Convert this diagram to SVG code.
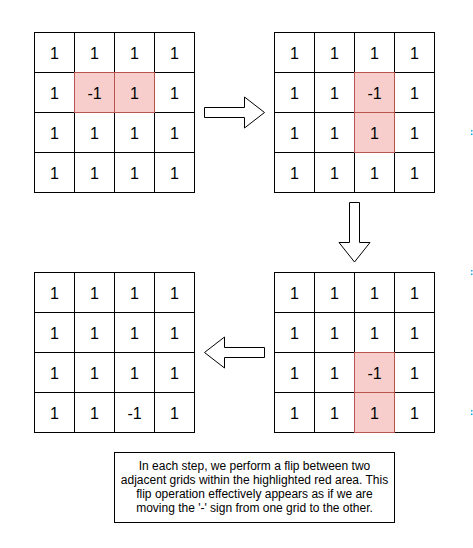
<svg xmlns="http://www.w3.org/2000/svg" width="473" height="548" viewBox="0 0 473 548">
<style>
.c{fill:#ffffff;stroke:#000000;stroke-width:1}
.r{fill:#f8cecc;stroke:#b85450;stroke-width:1}
.t{font-family:"Liberation Sans",Arial,Helvetica,sans-serif;font-size:16px;fill:#000000;text-anchor:middle}
.n{font-family:"Liberation Sans",Arial,Helvetica,sans-serif;font-size:12px;fill:#000000;text-anchor:middle}
.a{fill:#ffffff;stroke:#000000;stroke-width:1;stroke-linejoin:miter}
.d{fill:#1ba1e2}
</style>
<rect width="473" height="548" fill="#ffffff"/>
<g id="grid-step1">
<rect class="c" x="34.5" y="32.5" width="40" height="40"/><rect class="c" x="74.5" y="32.5" width="40" height="40"/><rect class="c" x="114.5" y="32.5" width="40" height="40"/><rect class="c" x="154.5" y="32.5" width="40" height="40"/>
<rect class="c" x="34.5" y="72.5" width="40" height="40"/><rect class="c" x="154.5" y="72.5" width="40" height="40"/>
<rect class="c" x="34.5" y="112.5" width="40" height="40"/><rect class="c" x="74.5" y="112.5" width="40" height="40"/><rect class="c" x="114.5" y="112.5" width="40" height="40"/><rect class="c" x="154.5" y="112.5" width="40" height="40"/>
<rect class="c" x="34.5" y="152.5" width="40" height="40"/><rect class="c" x="74.5" y="152.5" width="40" height="40"/><rect class="c" x="114.5" y="152.5" width="40" height="40"/><rect class="c" x="154.5" y="152.5" width="40" height="40"/>
<rect class="r" x="74.5" y="72.5" width="40" height="40"/><rect class="r" x="114.5" y="72.5" width="40" height="40"/>
<text class="t" x="54.5" y="58.5">1</text><text class="t" x="94.5" y="58.5">1</text><text class="t" x="134.5" y="58.5">1</text><text class="t" x="174.5" y="58.5">1</text>
<text class="t" x="54.5" y="98.5">1</text><text class="t" x="94.5" y="98.5">-1</text><text class="t" x="134.5" y="98.5">1</text><text class="t" x="174.5" y="98.5">1</text>
<text class="t" x="54.5" y="138.5">1</text><text class="t" x="94.5" y="138.5">1</text><text class="t" x="134.5" y="138.5">1</text><text class="t" x="174.5" y="138.5">1</text>
<text class="t" x="54.5" y="178.5">1</text><text class="t" x="94.5" y="178.5">1</text><text class="t" x="134.5" y="178.5">1</text><text class="t" x="174.5" y="178.5">1</text>
</g>
<g id="grid-step2">
<rect class="c" x="274.5" y="32.5" width="40" height="40"/><rect class="c" x="314.5" y="32.5" width="40" height="40"/><rect class="c" x="354.5" y="32.5" width="40" height="40"/><rect class="c" x="394.5" y="32.5" width="40" height="40"/>
<rect class="c" x="274.5" y="72.5" width="40" height="40"/><rect class="c" x="314.5" y="72.5" width="40" height="40"/><rect class="c" x="394.5" y="72.5" width="40" height="40"/>
<rect class="c" x="274.5" y="112.5" width="40" height="40"/><rect class="c" x="314.5" y="112.5" width="40" height="40"/><rect class="c" x="394.5" y="112.5" width="40" height="40"/>
<rect class="c" x="274.5" y="152.5" width="40" height="40"/><rect class="c" x="314.5" y="152.5" width="40" height="40"/><rect class="c" x="354.5" y="152.5" width="40" height="40"/><rect class="c" x="394.5" y="152.5" width="40" height="40"/>
<rect class="r" x="354.5" y="72.5" width="40" height="40"/><rect class="r" x="354.5" y="112.5" width="40" height="40"/>
<text class="t" x="294.5" y="58.5">1</text><text class="t" x="334.5" y="58.5">1</text><text class="t" x="374.5" y="58.5">1</text><text class="t" x="414.5" y="58.5">1</text>
<text class="t" x="294.5" y="98.5">1</text><text class="t" x="334.5" y="98.5">1</text><text class="t" x="374.5" y="98.5">-1</text><text class="t" x="414.5" y="98.5">1</text>
<text class="t" x="294.5" y="138.5">1</text><text class="t" x="334.5" y="138.5">1</text><text class="t" x="374.5" y="138.5">1</text><text class="t" x="414.5" y="138.5">1</text>
<text class="t" x="294.5" y="178.5">1</text><text class="t" x="334.5" y="178.5">1</text><text class="t" x="374.5" y="178.5">1</text><text class="t" x="414.5" y="178.5">1</text>
</g>
<g id="grid-step3">
<rect class="c" x="274.5" y="272.5" width="40" height="40"/><rect class="c" x="314.5" y="272.5" width="40" height="40"/><rect class="c" x="354.5" y="272.5" width="40" height="40"/><rect class="c" x="394.5" y="272.5" width="40" height="40"/>
<rect class="c" x="274.5" y="312.5" width="40" height="40"/><rect class="c" x="314.5" y="312.5" width="40" height="40"/><rect class="c" x="354.5" y="312.5" width="40" height="40"/><rect class="c" x="394.5" y="312.5" width="40" height="40"/>
<rect class="c" x="274.5" y="352.5" width="40" height="40"/><rect class="c" x="314.5" y="352.5" width="40" height="40"/><rect class="c" x="394.5" y="352.5" width="40" height="40"/>
<rect class="c" x="274.5" y="392.5" width="40" height="40"/><rect class="c" x="314.5" y="392.5" width="40" height="40"/><rect class="c" x="394.5" y="392.5" width="40" height="40"/>
<rect class="r" x="354.5" y="352.5" width="40" height="40"/><rect class="r" x="354.5" y="392.5" width="40" height="40"/>
<text class="t" x="294.5" y="298.5">1</text><text class="t" x="334.5" y="298.5">1</text><text class="t" x="374.5" y="298.5">1</text><text class="t" x="414.5" y="298.5">1</text>
<text class="t" x="294.5" y="338.5">1</text><text class="t" x="334.5" y="338.5">1</text><text class="t" x="374.5" y="338.5">1</text><text class="t" x="414.5" y="338.5">1</text>
<text class="t" x="294.5" y="378.5">1</text><text class="t" x="334.5" y="378.5">1</text><text class="t" x="374.5" y="378.5">-1</text><text class="t" x="414.5" y="378.5">1</text>
<text class="t" x="294.5" y="418.5">1</text><text class="t" x="334.5" y="418.5">1</text><text class="t" x="374.5" y="418.5">1</text><text class="t" x="414.5" y="418.5">1</text>
</g>
<g id="grid-step4">
<rect class="c" x="34.5" y="272.5" width="40" height="40"/><rect class="c" x="74.5" y="272.5" width="40" height="40"/><rect class="c" x="114.5" y="272.5" width="40" height="40"/><rect class="c" x="154.5" y="272.5" width="40" height="40"/>
<rect class="c" x="34.5" y="312.5" width="40" height="40"/><rect class="c" x="74.5" y="312.5" width="40" height="40"/><rect class="c" x="114.5" y="312.5" width="40" height="40"/><rect class="c" x="154.5" y="312.5" width="40" height="40"/>
<rect class="c" x="34.5" y="352.5" width="40" height="40"/><rect class="c" x="74.5" y="352.5" width="40" height="40"/><rect class="c" x="114.5" y="352.5" width="40" height="40"/><rect class="c" x="154.5" y="352.5" width="40" height="40"/>
<rect class="c" x="34.5" y="392.5" width="40" height="40"/><rect class="c" x="74.5" y="392.5" width="40" height="40"/><rect class="c" x="114.5" y="392.5" width="40" height="40"/><rect class="c" x="154.5" y="392.5" width="40" height="40"/>
<text class="t" x="54.5" y="298.5">1</text><text class="t" x="94.5" y="298.5">1</text><text class="t" x="134.5" y="298.5">1</text><text class="t" x="174.5" y="298.5">1</text>
<text class="t" x="54.5" y="338.5">1</text><text class="t" x="94.5" y="338.5">1</text><text class="t" x="134.5" y="338.5">1</text><text class="t" x="174.5" y="338.5">1</text>
<text class="t" x="54.5" y="378.5">1</text><text class="t" x="94.5" y="378.5">1</text><text class="t" x="134.5" y="378.5">1</text><text class="t" x="174.5" y="378.5">1</text>
<text class="t" x="54.5" y="418.5">1</text><text class="t" x="94.5" y="418.5">1</text><text class="t" x="134.5" y="418.5">-1</text><text class="t" x="174.5" y="418.5">1</text>
</g>
<g id="connectors">
<path class="a" d="M204.5,107.5 L244.5,107.5 L244.5,97 L264.5,112.5 L244.5,128 L244.5,117.5 L204.5,117.5 Z"/>
<path class="a" d="M349.5,202.5 L359.5,202.5 L359.5,242.5 L370,242.5 L354.5,262 L339,242.5 L349.5,242.5 Z"/>
<path class="a" d="M264.5,347.5 L224.5,347.5 L224.5,337 L204.5,352.5 L224.5,368 L224.5,357.5 L264.5,357.5 Z"/>
</g>
<g id="note">
<rect class="c" x="114.5" y="452.5" width="280" height="70"/>
<text class="n" x="254.5" y="470">In each step, we perform a flip between two</text>
<text class="n" x="254.5" y="484">adjacent grids within the highlighted red area. This</text>
<text class="n" x="254.5" y="498">flip operation effectively appears as if we are</text>
<text class="n" x="254.5" y="512">moving the '-' sign from one grid to the other.</text>
</g>
<g id="edge-marks">
<rect class="d" x="471" y="130" width="1.5" height="1.5"/><rect class="d" x="471" y="133.5" width="1.5" height="1.5"/>
<rect class="d" x="471" y="270" width="1.5" height="1.5"/><rect class="d" x="471" y="273.5" width="1.5" height="1.5"/>
<rect class="d" x="471" y="410" width="1.5" height="1.5"/><rect class="d" x="471" y="413.5" width="1.5" height="1.5"/>
</g>
</svg>
